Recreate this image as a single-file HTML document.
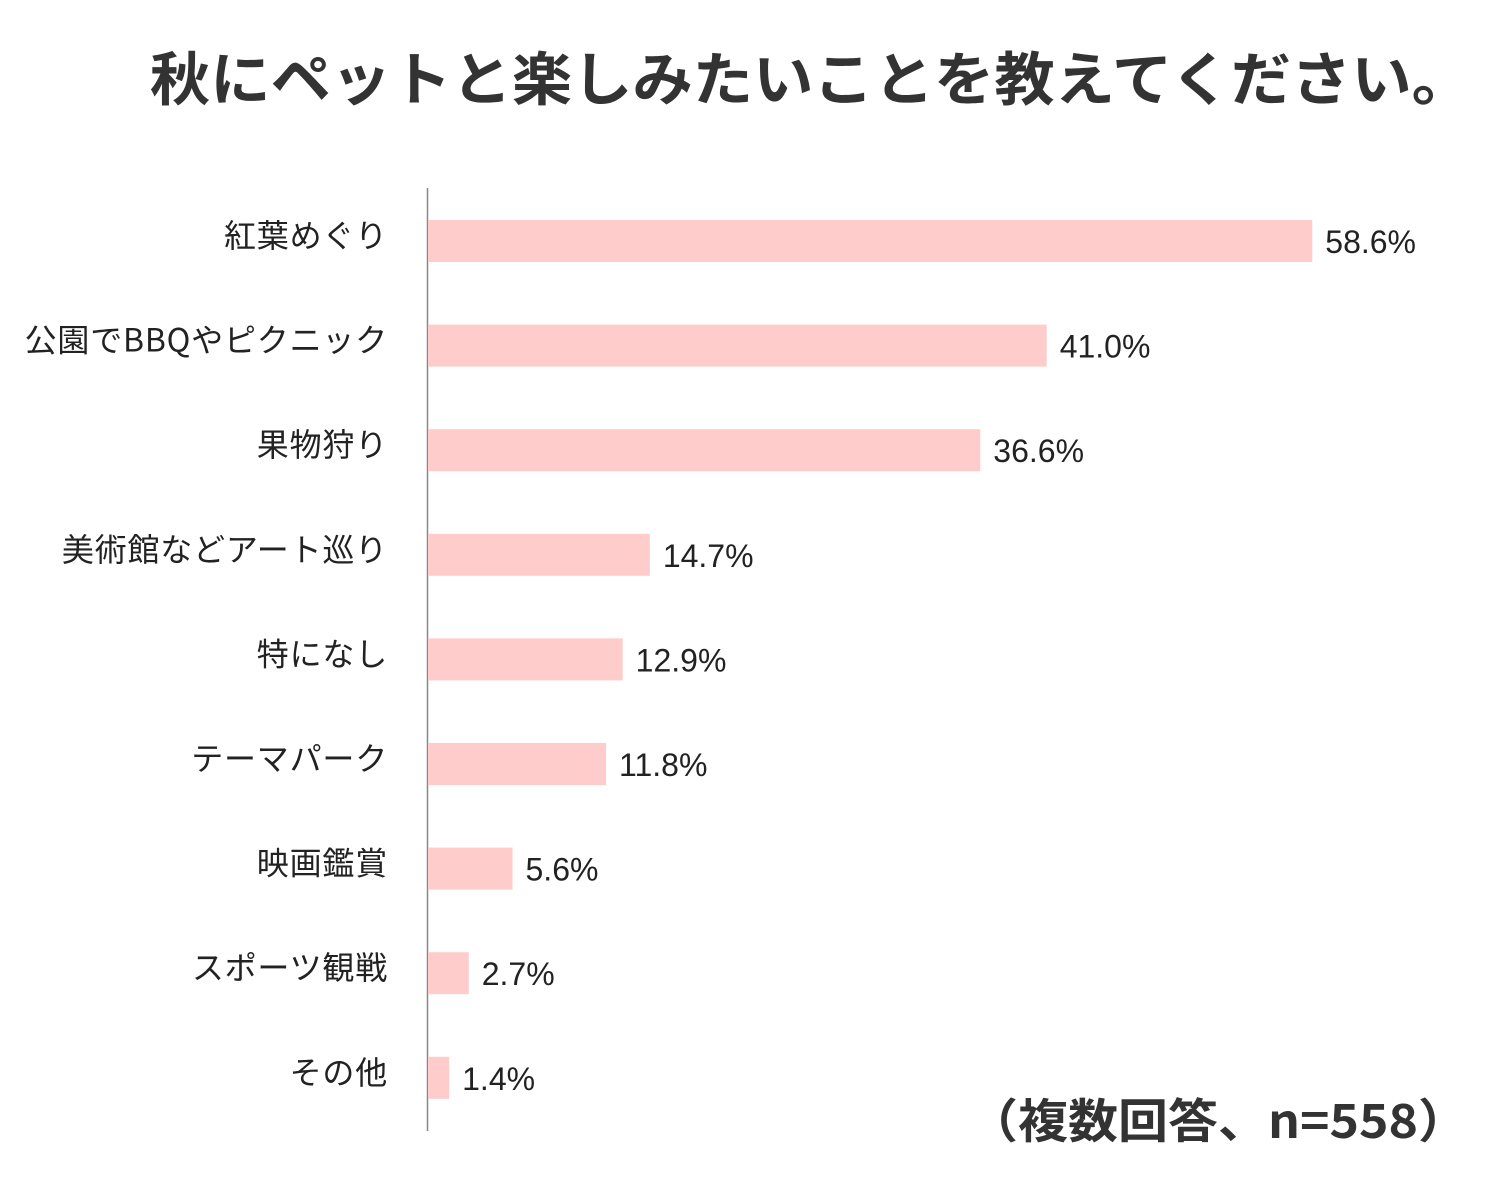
<!DOCTYPE html>
<html><head><meta charset="utf-8"><style>
body{margin:0;background:#fff;}
svg{display:block;}
</style></head><body>
<svg id="chart" width="1502" height="1196" xmlns="http://www.w3.org/2000/svg">
<text x="150" y="100" textLength="1322" lengthAdjust="spacingAndGlyphs" font-family="'Noto Sans CJK JP',sans-serif" font-weight="bold" font-size="58" fill="#333">秋にペットと楽しみたいことを教えてください。</text>
<text x="968" y="1138" textLength="500" lengthAdjust="spacingAndGlyphs" font-family="'Noto Sans CJK JP',sans-serif" font-weight="bold" font-size="47" fill="#333">（複数回答、n=558）</text>
<line x1="427.5" y1="188" x2="427.5" y2="1131" stroke="#888" stroke-width="1.5"/>
<g id="bars"></g>
</svg>
<script>
const categories=["紅葉めぐり","公園でBBQやピクニック","果物狩り","美術館などアート巡り","特になし","テーマパーク","映画鑑賞","スポーツ観戦","その他"];
const values=[58.6,41.0,36.6,14.7,12.9,11.8,5.6,2.7,1.4];
const valueLabels=["58.6%","41.0%","36.6%","14.7%","12.9%","11.8%","5.6%","2.7%","1.4%"];
const x0=428,pxPer=15.09,top0=220,step=104.6,barH=42;
const xScale=v=>x0+v*pxPer;
const yScale=i=>top0+i*step;
const g=document.getElementById('bars');
const NS="http://www.w3.org/2000/svg";
categories.forEach((c,i)=>{
  const y=yScale(i);
  const r=document.createElementNS(NS,'rect');
  r.setAttribute('x',x0);r.setAttribute('y',y);
  r.setAttribute('width',xScale(values[i])-x0);r.setAttribute('height',barH);
  r.setAttribute('fill','#FFCCCC');
  
  
  g.appendChild(r);
  const t=document.createElementNS(NS,'text');
  t.setAttribute('x',388);t.setAttribute('y',y+27);
  t.setAttribute('text-anchor','end');
  t.setAttribute('font-family',"'Noto Sans CJK JP',sans-serif");
  t.setAttribute('font-size','32');t.setAttribute('fill','#222');
  t.setAttribute('letter-spacing','0.8');
  t.textContent=c;
  
  
  g.appendChild(t);
  const v=document.createElementNS(NS,'text');
  v.setAttribute('x',xScale(values[i])+13);v.setAttribute('y',y+33);
  v.setAttribute('font-family',"'Liberation Sans',sans-serif");
  v.setAttribute('font-size','32');v.setAttribute('fill','#222');
  v.textContent=valueLabels[i];
  
  
  g.appendChild(v);
});
</script>
</body></html>
